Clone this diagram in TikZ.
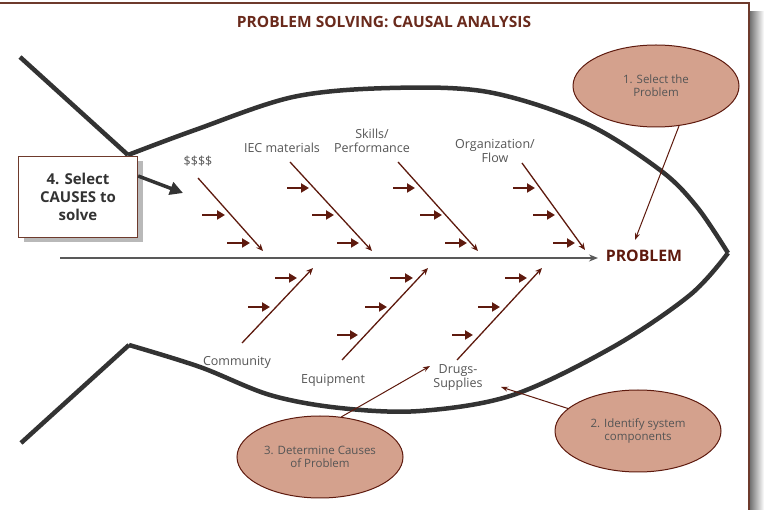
\documentclass[tikz,border=0pt]{standalone}
\usepackage{fontspec}
\setmainfont{Open Sans}
\usetikzlibrary{arrows.meta,shapes.geometric,shadows}
\definecolor{brn}{HTML}{5E1A0E}
\definecolor{framec}{HTML}{6E3A2C}
\definecolor{salmon}{HTML}{D4A18D}
\definecolor{fishc}{HTML}{333333}
\definecolor{lbl}{HTML}{555555}
\definecolor{titlec}{HTML}{6A2A1C}
\begin{document}
\begin{tikzpicture}[x=1pt,y=-1pt,
  fish/.style={draw=fishc,line width=4.5pt,line join=miter},
  bone/.style={draw=brn,line width=1.3pt,-{Stealth[length=7pt,width=6pt]}},
  smallarr/.style={draw=brn,line width=2.6pt,-{Triangle[length=8pt,width=9pt]}},
  lab/.style={text=lbl,font=\fontsize{12.5}{14}\selectfont,align=center,inner sep=0pt},
  oval/.style={ellipse,draw=brn,line width=1pt,fill=salmon,text=lbl,align=center,
     font=\fontsize{11.5}{13}\selectfont,minimum width=166pt,minimum height=82pt,inner sep=0pt},
  callout/.style={draw=brn,line width=1pt,-{Stealth[length=7pt,width=5pt]}}
]
\useasboundingbox (0,0) rectangle (764,510);
% frame and shadow
\shade[left color=black!55,right color=white] (750,12) rectangle (764,515);
\draw[framec,line width=1.6pt,fill=white] (-5,3) rectangle (749,520);
% title
\node[text=titlec,font=\fontsize{15.5}{17}\selectfont\bfseries] (title) at (384,22) {PROBLEM SOLVING: CAUSAL ANALYSIS};
% fish outline
\draw[fish] (20,57) -- (128,155);
\draw[fish] (21,443) -- (129,345);
\draw[fish] plot[smooth,tension=0.55] coordinates {(128,155) (195,130) (293,97) (390,88) (488,92) (585,123) (660,170) (697,207) (728,253)};
\draw[fish] plot[smooth,tension=0.55] coordinates {(129,345) (200,367) (270,395) (340,408) (420,411) (513,395) (613,347) (690,295) (728,253)};
% spine
\node[text=brn,font=\fontsize{15.8}{17}\selectfont\bfseries,inner sep=0pt] (prob) at (644,256) {PROBLEM};
\coordinate (spineS) at (60,258);
\coordinate (spineE) at (598,258);
\draw[draw=black!65,line width=1.8pt,-{Stealth[length=9pt,width=7pt]}] (spineS) -- (spineE);
% bones
\foreach \n/\xa/\ya/\xb/\yb in {1/198/178/263/251, 2/290/162/372/251, 3/398/162/478/251, 4/522/163/585/250,
                                 5/242/343/313/268, 6/342/360/428/268, 7/457/360/542/268}{
  \coordinate (b\n s) at (\xa,\ya);
  \coordinate (b\n e) at (\xb,\yb);
  \draw[bone] (b\n s) -- (b\n e);
}
% small arrows
\foreach \n/\xa/\xb/\y in {1/202/225/215, 2/227/250/243,
   3/287/309/188, 4/312/334/215, 5/337/359/243,
   6/393/415/188, 7/420/442/215, 8/445/467/243,
   9/513/535/188, 10/533/555/215, 11/553/575/243,
   12/275/297/278, 13/248/270/307,
   14/390/413/278, 15/365/387/307, 16/337/358/335,
   17/505/527/278, 18/478/500/307, 19/452/473/335}{
  \coordinate (a\n s) at (\xa,\y);
  \coordinate (a\n e) at (\xb,\y);
  \draw[smallarr] (a\n s) -- (a\n e);
}
% labels
\node[lab] (l1) at (198,161) {\$\$\$\$};
\node[lab] (l2) at (282,148) {IEC materials};
\node[lab] (l3) at (372,141) {Skills/\\Performance};
\node[lab] (l4) at (495,151) {Organization/\\Flow};
\node[lab] (l5) at (237,362) {Community};
\node[lab] (l6) at (333,380) {Equipment};
\node[lab] (l7) at (458,378) {Drugs-\\Supplies};
% box 4
\node[draw=framec,line width=1.3pt,fill=white,minimum width=119pt,minimum height=81pt,
      text=fishc,align=center,font=\fontsize{15}{18}\selectfont\bfseries,
      drop shadow={shadow xshift=5pt,shadow yshift=-5pt,opacity=0.55}] (box4) at (78,197) {4. Select\\CAUSES to\\solve};
\coordinate (box4t) at (183,193);
\draw[draw=fishc,line width=3.5pt,-{Triangle[length=13pt,width=13pt]}] (box4.east |- 0,176) -- (box4t);
% ovals
\node[oval] (e1) at (656,86) {1. Select the\\Problem};
\node[oval] (e2) at (638,431) {2. Identify system\\components};
\node[oval] (e3) at (320,457) {3. Determine Causes\\of Problem};
\coordinate (p1) at (635,240);
\coordinate (p2) at (501,387);
\coordinate (p3) at (430,366);
\draw[callout] (e1.-60) -- (p1);
\draw[callout] (e2) -- (p2);
\draw[callout] (e3.62) -- (p3);
\end{tikzpicture}
\end{document}
